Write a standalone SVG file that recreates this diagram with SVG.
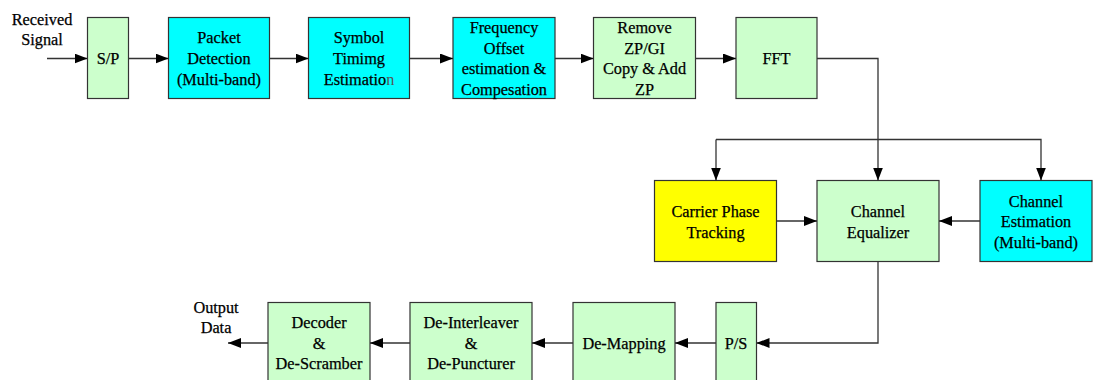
<svg xmlns="http://www.w3.org/2000/svg" width="1093" height="380" viewBox="0 0 1093 380">
  <style>
    .box { stroke: #333; stroke-width: 1.2; }
    .green { fill: #CCFFCC; }
    .cyan { fill: #00FFFF; }
    .yellow { fill: #FFFF00; }
    text { font-family: "Liberation Serif", "Times New Roman", serif; font-size: 16.3px; fill: #000; stroke: #000; stroke-width: 0.25; text-anchor: middle; }
    .faint { fill: #555; stroke: none; }
    .wire { fill: none; stroke: #333; stroke-width: 1.3; }
  </style>
  <defs>
    <marker id="arrow" viewBox="0 0 13 10" refX="13" refY="5" markerWidth="13" markerHeight="10" markerUnits="userSpaceOnUse" orient="auto">
      <path d="M0,0 L13,5 L0,10 Z" fill="#000"/>
    </marker>
  </defs>

  <!-- input label -->
  <g id="input-label">
    <text x="42" y="25">Received</text>
    <text x="42" y="45">Signal</text>
  </g>

  <!-- top row -->
  <g id="sp">
    <rect class="box green" x="87.5" y="17.5" width="41" height="81"/>
    <text x="108" y="63.5">S/P</text>
  </g>
  <g id="packet-detection">
    <rect class="box cyan" x="168.5" y="17.5" width="101" height="81"/>
    <text x="219" y="43">Packet</text>
    <text x="219" y="64">Detection</text>
    <text x="219" y="85">(Multi-band)</text>
  </g>
  <g id="symbol-timing">
    <rect class="box cyan" x="308.5" y="17.5" width="101" height="81"/>
    <text x="359" y="43">Symbol</text>
    <text x="359" y="64">Timimg</text>
    <text x="359" y="85">Estimatio<tspan class="faint">n</tspan></text>
  </g>
  <g id="freq-offset">
    <rect class="box cyan" x="453" y="17.5" width="102" height="81"/>
    <text x="504" y="33">Frequency</text>
    <text x="504" y="53.5">Offset</text>
    <text x="504" y="74">estimation &amp;</text>
    <text x="504" y="94.5">Compesation</text>
  </g>
  <g id="remove-zp">
    <rect class="box green" x="593.5" y="17.5" width="102" height="81"/>
    <text x="644.5" y="33">Remove</text>
    <text x="644.5" y="53.5">ZP/GI</text>
    <text x="644.5" y="74">Copy &amp; Add</text>
    <text x="644.5" y="94.5">ZP</text>
  </g>
  <g id="fft">
    <rect class="box green" x="736" y="17.5" width="81" height="81"/>
    <text x="776.5" y="63.5">FFT</text>
  </g>

  <!-- middle row -->
  <g id="carrier-phase">
    <rect class="box yellow" x="654.5" y="180.5" width="122" height="81"/>
    <text x="715.5" y="216.5">Carrier Phase</text>
    <text x="715.5" y="237.5">Tracking</text>
  </g>
  <g id="channel-equalizer">
    <rect class="box green" x="817" y="180.5" width="122" height="81"/>
    <text x="878" y="216.5">Channel</text>
    <text x="878" y="237.5">Equalizer</text>
  </g>
  <g id="channel-estimation">
    <rect class="box cyan" x="980" y="180.5" width="112" height="81"/>
    <text x="1036" y="206.5">Channel</text>
    <text x="1036" y="227">Estimation</text>
    <text x="1036" y="247.5">(Multi-band)</text>
  </g>

  <!-- bottom row -->
  <g id="ps">
    <rect class="box green" x="716" y="302.5" width="40.5" height="90"/>
    <text x="736" y="349">P/S</text>
  </g>
  <g id="de-mapping">
    <rect class="box green" x="573" y="302.5" width="102" height="90"/>
    <text x="624" y="349">De-Mapping</text>
  </g>
  <g id="de-interleaver">
    <rect class="box green" x="410" y="302.5" width="122" height="90"/>
    <text x="471" y="328">De-Interleaver</text>
    <text x="471" y="348.5">&amp;</text>
    <text x="471" y="369">De-Puncturer</text>
  </g>
  <g id="decoder">
    <rect class="box green" x="268" y="302.5" width="102" height="90"/>
    <text x="319" y="328">Decoder</text>
    <text x="319" y="348.5">&amp;</text>
    <text x="319" y="369">De-Scramber</text>
  </g>
  <g id="output-label">
    <text x="216" y="312.5">Output</text>
    <text x="216" y="332.5">Data</text>
  </g>

  <!-- connectors -->
  <g id="connectors">
    <path class="wire" d="M47,58.5 H87.5" marker-end="url(#arrow)"/>
    <path class="wire" d="M128.5,58.5 H168.5" marker-end="url(#arrow)"/>
    <path class="wire" d="M269.5,58.5 H308.5" marker-end="url(#arrow)"/>
    <path class="wire" d="M409.5,58.5 H453" marker-end="url(#arrow)"/>
    <path class="wire" d="M555,58.5 H593.5" marker-end="url(#arrow)"/>
    <path class="wire" d="M695.5,58.5 H736" marker-end="url(#arrow)"/>
    <path class="wire" d="M817,58.5 H878 V180.5" marker-end="url(#arrow)"/>
    <path class="wire" d="M716,139.5 H1041 V180.5" marker-end="url(#arrow)"/>
    <path class="wire" d="M716,139.5 V180.5" marker-end="url(#arrow)"/>
    <path class="wire" d="M776.5,221 H817" marker-end="url(#arrow)"/>
    <path class="wire" d="M980,221 H939" marker-end="url(#arrow)"/>
    <path class="wire" d="M878,261.5 V343 H756.5" marker-end="url(#arrow)"/>
    <path class="wire" d="M716,343 H675" marker-end="url(#arrow)"/>
    <path class="wire" d="M573,343 H532" marker-end="url(#arrow)"/>
    <path class="wire" d="M410,343 H370" marker-end="url(#arrow)"/>
    <path class="wire" d="M268,343 H228" marker-end="url(#arrow)"/>
  </g>
</svg>
